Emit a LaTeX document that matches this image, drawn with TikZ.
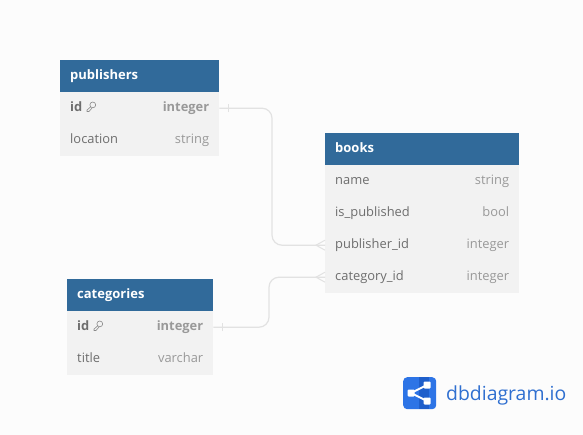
\documentclass[tikz,border=0pt]{standalone}
\usepackage{fontspec}
\setmainfont{Open Sans}
\definecolor{hdr}{HTML}{316A9A}
\definecolor{rowbg}{HTML}{F2F2F2}
\definecolor{txt}{HTML}{6E6E6E}
\definecolor{typ}{HTML}{999999}
\definecolor{rel}{HTML}{E2E2E2}
\definecolor{keyc}{HTML}{8A8A8A}
\definecolor{logoA}{HTML}{2D74E6}
\definecolor{logoB}{HTML}{1F5FCB}
\definecolor{logotxt}{HTML}{2F6FD0}
\tikzset{
  x=1pt,y=-1pt,
  hdrbox/.style={fill=hdr,text=white,font=\fontsize{13}{15}\selectfont\bfseries,anchor=north west,minimum height=32pt,inner sep=0pt,text height=10pt,text depth=3pt,align=left},
  rowbox/.style={fill=rowbg,text=txt,font=\fontsize{12.9}{15}\selectfont,anchor=north west,minimum height=32pt,inner sep=0pt,text height=10pt,text depth=3pt,align=left},
  typebox/.style={text=typ,font=\fontsize{12.9}{15}\selectfont,anchor=east,inner sep=0pt,text height=10pt,text depth=3pt},
  relline/.style={draw=rel,line width=1.2pt,rounded corners=10pt},
  reltick/.style={draw=rel,line width=1pt},
  keyicon/.style={draw=keyc,line width=.6pt,line join=round},
}
\newcommand{\tbl}[6]{% name x y width style text
  \node[#5,text width=#4pt-20pt,minimum width=#4pt,inner xsep=10pt] (#1) at (#2,#3) {#6};}
\newcommand{\keyat}[1]{%
  \draw[keyicon] ([xshift=1.8pt,yshift=1.6pt]#1) circle (2.9pt);
  \draw[keyicon] ([xshift=-.4pt,yshift=-.4pt]#1) -- ([xshift=-4pt,yshift=-3.6pt]#1) -- ([xshift=-4pt,yshift=-5pt]#1) -- ([xshift=-2pt,yshift=-5pt]#1) -- ([xshift=.8pt,yshift=-1.8pt]#1);}
\begin{document}
\begin{tikzpicture}
\useasboundingbox[fill=white!99!black] (0,0) rectangle (583,435);
% publishers
\tbl{pubh}{60}{60}{159}{hdrbox}{publishers}
\tbl{pubid}{60}{92}{159}{rowbox}{\bfseries id}
\tbl{publoc}{60}{124}{159}{rowbox}{location}
\node[typebox,font=\fontsize{12.9}{15}\selectfont\bfseries] (pubidt) at ([xshift=-10pt]pubid.east) {integer};
\node[typebox] (publoct) at ([xshift=-10pt]publoc.east) {string};
\coordinate (pubkey) at (91,106.5);
\keyat{pubkey}
% books
\tbl{bookh}{325}{133}{194}{hdrbox}{books}
\tbl{bookname}{325}{165}{194}{rowbox}{name}
\tbl{bookisp}{325}{197}{194}{rowbox}{is\_published}
\tbl{bookpub}{325}{229}{194}{rowbox}{publisher\_id}
\tbl{bookcat}{325}{261}{194}{rowbox}{category\_id}
\node[typebox] (booknamet) at ([xshift=-10pt]bookname.east) {string};
\node[typebox] (bookispt) at ([xshift=-10pt]bookisp.east) {bool};
\node[typebox] (bookpubt) at ([xshift=-10pt]bookpub.east) {integer};
\node[typebox] (bookcatt) at ([xshift=-10pt]bookcat.east) {integer};
% categories
\tbl{cath}{67}{279}{146}{hdrbox}{categories}
\tbl{catid}{67}{311}{146}{rowbox}{\bfseries id}
\tbl{cattitle}{67}{343}{146}{rowbox}{title}
\node[typebox,font=\fontsize{12.9}{15}\selectfont\bfseries] (catidt) at ([xshift=-10pt]catid.east) {integer};
\node[typebox] (cattitlet) at ([xshift=-10pt]cattitle.east) {varchar};
\coordinate (catkey) at (98,325.5);
\keyat{catkey}
% connectors
\coordinate (m1) at (272,176);
\coordinate (m2) at (269,300);
\draw[relline] (pubid.east) -| (m1) |- (bookpub.west);
\draw[relline] (catid.east) -| (m2) |- (bookcat.west);
\draw[reltick] ([xshift=9pt,yshift=-4pt]pubid.east) -- ([xshift=9pt,yshift=4pt]pubid.east);
\draw[reltick] ([xshift=9pt,yshift=-4pt]catid.east) -- ([xshift=9pt,yshift=4pt]catid.east);
\draw[reltick] ([yshift=-5pt]bookpub.west) -- ([xshift=-9pt]bookpub.west) -- ([yshift=5pt]bookpub.west);
\draw[reltick] ([yshift=-5pt]bookcat.west) -- ([xshift=-9pt]bookcat.west) -- ([yshift=5pt]bookcat.west);
% logo
\node[fill=logoA,rounded corners=4pt,minimum width=33pt,minimum height=32pt,inner sep=0pt,anchor=north west] (logo) at (403,377) {};
\fill[logoB] (419,377) rectangle (429,409);
\coordinate (la) at (411,393);
\coordinate (lb) at (427,385);
\coordinate (lc) at (427,401);
\draw[white,line width=1.8pt] (lb) -- (la) -- (lc);
\fill[white,rounded corners=1pt] ([xshift=-3.5pt,yshift=-3.5pt]la) rectangle ([xshift=3.5pt,yshift=3.5pt]la);
\fill[white,rounded corners=1pt] ([xshift=-3.5pt,yshift=-3.5pt]lb) rectangle ([xshift=3.5pt,yshift=3.5pt]lb);
\fill[white,rounded corners=1pt] ([xshift=-3.5pt,yshift=-3.5pt]lc) rectangle ([xshift=3.5pt,yshift=3.5pt]lc);
\node[text=logotxt,font=\fontsize{19.4}{24}\selectfont,anchor=base west,inner sep=0pt] (logotext) at (446,400) {dbdiagram.io};
\end{tikzpicture}
\end{document}
